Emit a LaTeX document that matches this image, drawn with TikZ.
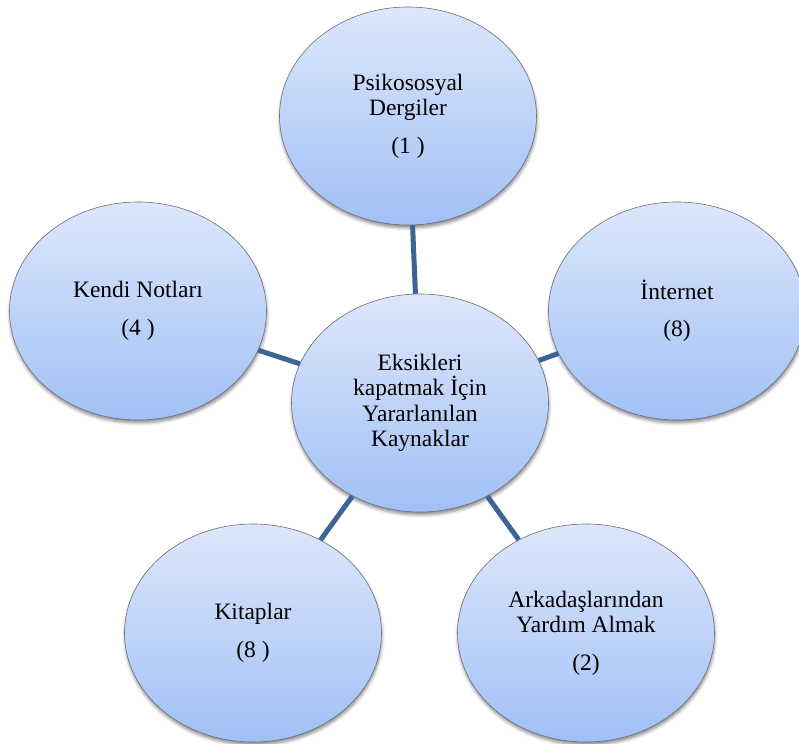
\documentclass[tikz,border=0pt]{standalone}
\usepackage{fontspec}
\setmainfont{Liberation Serif}
\usetikzlibrary{shapes.geometric,shadows.blur}
\definecolor{bubbletop}{HTML}{DDE7FB}
\definecolor{bubblebottom}{HTML}{A1C0F6}
\definecolor{bubbleedge}{HTML}{6B6F78}
\definecolor{spoke}{HTML}{3C6594}
\begin{document}
\begin{tikzpicture}[x=1pt,y=1pt,
  bubble/.style={ellipse, draw=bubbleedge, line width=0.6pt,
    top color=bubbletop, bottom color=bubblebottom,
    minimum width=257pt, minimum height=218pt, inner sep=0pt,
    align=center, font=\fontsize{23.5}{25.5}\selectfont,
    blur shadow={shadow xshift=0.5pt, shadow yshift=-3pt,
      shadow blur radius=3pt, shadow opacity=45}},
  link/.style={draw=spoke, line width=5pt}]
  \useasboundingbox (0,0) rectangle (799,743);
  % hub and its five sources
  \node[bubble] (hub) at (420,340) {Eksikleri\\kapatmak İçin\\Yararlanılan\\Kaynaklar};
  \node[bubble] (dergi) at (408,627) {Psikososyal\\Dergiler\\[12pt](1 )};
  \node[bubble] (internet) at (677,432) {İnternet\\[12pt](8)};
  \node[bubble] (notlar) at (138,432) {Kendi Notları\\[12pt](4 )};
  \node[bubble] (kitap) at (253,110) {Kitaplar\\[12pt](8 )};
  \node[bubble] (arkadas) at (586,110) {Arkadaşlarından\\Yardım Almak\\[12pt](2)};
  % spokes
  \foreach \n in {dergi,internet,notlar,kitap,arkadas}
    \draw[link] (hub) -- (\n);
\end{tikzpicture}
\end{document}
